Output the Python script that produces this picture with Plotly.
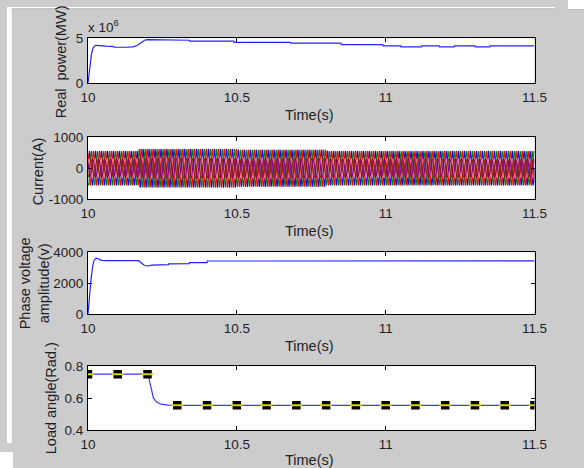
import numpy as np
import plotly.graph_objects as go

# ---------------- data ----------------
time_ticks = [10, 10.5, 11, 11.5]
time_tick_labels = ["10", "10.5", "11", "11.5"]

# Real power (in units of 10^6)
power_t = [10.0, 10.004, 10.008, 10.012, 10.017, 10.022, 10.028, 10.035, 10.06, 10.08, 10.09,
           10.13, 10.15, 10.165, 10.18, 10.19, 10.2, 10.23, 10.34, 10.341, 10.49, 10.491,
           10.68, 10.681, 10.85, 10.851, 10.99, 10.991, 11.05, 11.051, 11.12, 11.121,
           11.18, 11.181, 11.23, 11.231, 11.3, 11.301, 11.35, 11.351, 11.5]
power_v = [0.0, 1.2, 2.4, 3.3, 3.9, 4.15, 4.22, 4.18, 4.12, 4.1, 4.02,
           4.0, 4.05, 4.2, 4.55, 4.78, 4.85, 4.82, 4.78, 4.68, 4.68, 4.55,
           4.55, 4.45, 4.45, 4.3, 4.3, 4.15, 4.15, 4.05, 4.05, 4.15,
           4.15, 4.05, 4.05, 4.15, 4.15, 4.05, 4.05, 4.15, 4.15]

# Current: envelope of the three-phase currents (A) and grid frequency
current_env_t = [10.0, 10.17, 10.5, 10.8, 11.5]
current_env_outer = [555, 622, 598, 555]     # amplitude on each interval
current_env_inner = [300, 330, 320, 300]
current_freq_hz = 50
current_colors_outer = ["#0000ff", "#008000", "#ff0000"]
current_colors_inner = ["#f08080", "#8b2500", "#800080"]

# Phase voltage amplitude (V)
volt_t = [10.0, 10.003, 10.006, 10.01, 10.015, 10.02, 10.027, 10.035, 10.045, 10.06,
          10.17, 10.18, 10.19, 10.2, 10.215, 10.27, 10.271, 10.34, 10.341, 10.4, 10.401, 11.5]
volt_v = [0, 800, 1600, 2200, 3000, 3450, 3620, 3580, 3470, 3450,
          3450, 3300, 3140, 3110, 3170, 3200, 3250, 3260, 3320, 3330, 3430, 3440]

# Load angle (rad)
angle_t = [10.0, 10.2, 10.205, 10.21, 10.215, 10.22, 10.23, 10.245, 10.27, 10.3, 11.5]
angle_v = [0.75, 0.75, 0.72, 0.68, 0.63, 0.60, 0.575, 0.562, 0.556, 0.555, 0.555]
marker_t = [10.0, 10.1, 10.2, 10.3, 10.4, 10.5, 10.6, 10.7, 10.8, 10.9, 11.0, 11.1, 11.2, 11.3, 11.4, 11.5]
marker_v = [0.75, 0.75, 0.75, 0.555, 0.555, 0.555, 0.555, 0.555, 0.555, 0.555, 0.555, 0.555,
            0.555, 0.555, 0.555, 0.555]

# ---------------- layout helpers ----------------
# The page body keeps its default 8 px margin; the figure is 568x452 at (8, 8).
# The captured picture comes out about 3 % smaller than page pixels, so target
# picture pixels are divided by these factors to get page pixels.
OFF = 8
W, H = 568, 452
SX, SY = 0.968, 0.965
def px(x):
    return (x / SX - OFF) / W
def py(y):
    return 1 - (y / SY - OFF) / H
def fs(size):
    return size / SY

FONT = "Liberation Sans, Arial, sans-serif"
TXT = "#1e1e28"

fig = go.Figure()

# Panel 1
fig.add_trace(go.Scatter(x=power_t, y=power_v, mode="lines", xaxis="x", yaxis="y",
                         line=dict(color="#2222ff", width=1.2), hoverinfo="skip"))

# Panel 2 : three-phase currents (outer set first, inner set on top)
t = np.arange(10.0, 11.5 + 1e-9, 0.001)
idx = np.searchsorted(current_env_t, t, side="right") - 1
idx = np.clip(idx, 0, len(current_env_outer) - 1)
amp_out = np.array(current_env_outer)[idx]
amp_in = np.array(current_env_inner)[idx]
for k, c in enumerate(current_colors_outer):
    y = amp_out * np.sin(2 * np.pi * current_freq_hz * t - k * 2 * np.pi / 3)
    fig.add_trace(go.Scatter(x=t, y=y, mode="lines", xaxis="x2", yaxis="y2",
                             line=dict(color=c, width=1.1), hoverinfo="skip"))
for k, c in enumerate(current_colors_inner):
    y = amp_in * np.sin(2 * np.pi * current_freq_hz * t - k * 2 * np.pi / 3 + 0.5)
    fig.add_trace(go.Scatter(x=t, y=y, mode="lines", xaxis="x2", yaxis="y2",
                             line=dict(color=c, width=1.0), hoverinfo="skip"))

# Panel 3
fig.add_trace(go.Scatter(x=volt_t, y=volt_v, mode="lines", xaxis="x3", yaxis="y3",
                         line=dict(color="#2222ff", width=1.2), hoverinfo="skip"))

# Panel 4
fig.add_trace(go.Scatter(x=angle_t, y=angle_v, mode="lines", xaxis="x4", yaxis="y4",
                         line=dict(color="#3a3aff", width=1.2), hoverinfo="skip"))
fig.add_trace(go.Scatter(x=marker_t, y=marker_v, mode="markers", xaxis="x4", yaxis="y4",
                         marker=dict(symbol="square", size=8.5, color="black"), hoverinfo="skip"))
fig.add_trace(go.Scatter(x=marker_t, y=marker_v, mode="markers", xaxis="x4", yaxis="y4",
                         marker=dict(symbol="line-ew", size=8.5, line=dict(color="#d8d800", width=2)),
                         hoverinfo="skip"))

# ---------------- axes ----------------
x_dom = [px(89), px(537)]
panels = [  # (top px, bottom px, range, tickvals, ticktext)
    (39, 84, [0, 5], [0, 5], ["0", "5"]),
    (138, 200, [-1000, 1000], [-1000, 0, 1000], ["-1000", "0", "1000"]),
    (253, 315, [0, 4000], [0, 2000, 4000], ["0", "2000", "4000"]),
    (367, 431, [0.4, 0.8], [0.4, 0.6, 0.8], ["0.4", "0.6", "0.8"]),
]
layout = dict(
    width=W, height=H, margin=dict(l=0, r=0, t=0, b=0),
    paper_bgcolor="#cccccc", plot_bgcolor="white", showlegend=False,
)
for i, (top, bot, rng, tv, tt) in enumerate(panels):
    n = "" if i == 0 else str(i + 1)
    layout["xaxis" + n] = dict(
        domain=x_dom, anchor="y" + n, range=[10, 11.5], tickvals=time_ticks, ticktext=time_tick_labels,
        ticks="inside", ticklen=4, tickcolor="black", showline=True, linecolor="black", linewidth=1,
        mirror="ticks", showgrid=False, zeroline=False, ticklabelstandoff=2,
        tickfont=dict(family=FONT, size=fs(13), color=TXT), fixedrange=True)
    layout["yaxis" + n] = dict(
        domain=[py(bot), py(top)], anchor="x" + n, range=rng, tickvals=tv, ticktext=tt,
        ticks="inside", ticklen=4, tickcolor="black", showline=True, linecolor="black", linewidth=1,
        mirror="ticks", showgrid=False, zeroline=False, ticklabelstandoff=1,
        tickfont=dict(family=FONT, size=fs(13), color=TXT), fixedrange=True)

fig.update_layout(**layout)

# ---------------- annotations ----------------
ann = []
for ty in [116, 232, 347, 461]:
    ann.append(dict(x=px(311), y=py(ty), xref="paper", yref="paper", text="Time(s)",
                    showarrow=False, xanchor="center", yanchor="middle",
                    font=dict(family=FONT, size=fs(14), color=TXT)))
ytitles = [
    ("Real  power(MW)", 62, 63),
    ("Current(A)", 39, 172),
    ("Phase voltage<br>amplitude(v)", 35, 284),
    ("Load angle(Rad.)", 52, 399),
]
for text, xc, yc in ytitles:
    ann.append(dict(x=px(xc), y=py(yc), xref="paper", yref="paper", text=text, textangle=-90,
                    showarrow=False, xanchor="center", yanchor="middle",
                    font=dict(family=FONT, size=fs(14), color=TXT)))
ann.append(dict(x=px(87), y=py(27), xref="paper", yref="paper", text="x 10<sup>6</sup>",
                showarrow=False, xanchor="left", yanchor="middle",
                font=dict(family=FONT, size=fs(13), color=TXT)))
fig.update_layout(annotations=ann)

# ---------------- background strips (white border of the window) ----------------
fig.update_layout(shapes=[
    dict(type="rect", xref="paper", yref="paper", x0=0, x1=1, y0=py(9), y1=1,
         fillcolor="white", line=dict(width=0), layer="above"),
    dict(type="rect", xref="paper", yref="paper", x0=0, x1=px(12.5), y0=0, y1=1,
         fillcolor="white", line=dict(width=0), layer="above"),
    dict(type="line", xref="paper", yref="paper", x0=px(12.5), x1=1, y0=py(9.5), y1=py(9.5),
         line=dict(color="#bdbdbd", width=1), layer="above"),
])

# colour the page margins like the figure background and let the last axis title
# run past the figure edge (style only, no size change)
post = """
document.documentElement.style.background =
  'linear-gradient(to right, #ffffff 12.9px, rgba(0,0,0,0) 12.9px), ' +
  'linear-gradient(to bottom, #ffffff 9.3px, #bdbdbd 9.3px, #bdbdbd 10.4px, #cccccc 10.4px)';
document.querySelectorAll('svg.main-svg').forEach(function(s){ s.style.overflow = 'visible'; });
"""
fig.write_html("out.html", post_script=post)
